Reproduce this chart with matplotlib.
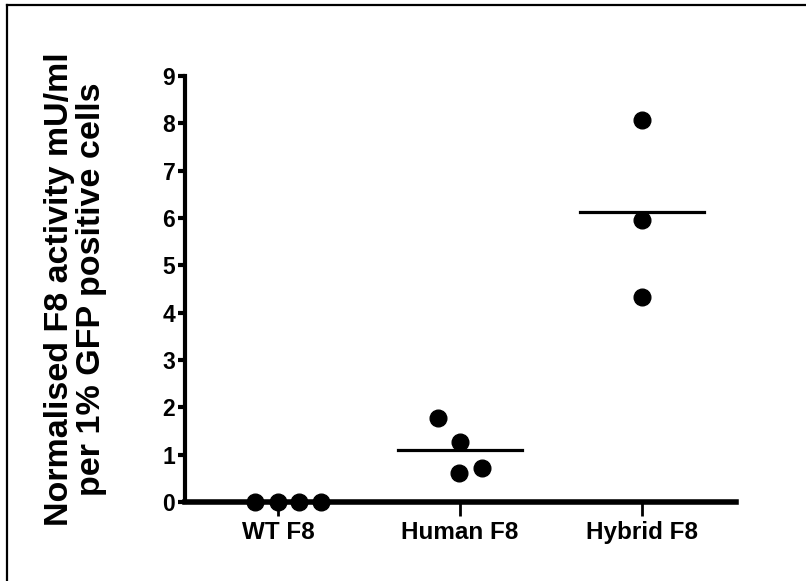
import matplotlib.pyplot as plt
import numpy as np

plt.rcParams['font.family'] = ['Liberation Sans', 'DejaVu Sans']
plt.rcParams['font.weight'] = 'bold'

# group names and measured activities
groups = ['WT F8', 'Human F8', 'Hybrid F8']
wt_f8 = [0.0, 0.0, 0.0, 0.0]
human_f8 = [1.78, 1.27, 0.61, 0.72]
hybrid_f8 = [8.08, 5.95, 4.33]
y_ticks = [0, 1, 2, 3, 4, 5, 6, 7, 8, 9]

# horizontal spread of points within each group (scatter layout)
spread = [[-0.126, 0.0, 0.115, 0.236],
          [-0.12, 0.0, -0.005, 0.12],
          [0.0, 0.0, 0.0]]

values = [wt_f8, human_f8, hybrid_f8]

fig = plt.figure(figsize=(8.06, 5.81), dpi=100)
ax = fig.add_axes([0.2295, 0.136, 0.684, 0.733])

for i, (vals, dx) in enumerate(zip(values, spread)):
    xs = i + np.array(dx)
    ax.plot(xs, vals, 'o', color='black', markersize=12, clip_on=False, zorder=3)
    # group mean
    if i > 0:
        m = np.mean(vals)
        ax.plot([i - 0.34, i + 0.34], [m, m], color='black', linewidth=2.3, zorder=2)

ax.set_xlim(-0.511, 2.516)
ax.set_ylim(0, 9)
ax.set_xticks(range(len(groups)))
ax.set_xticklabels(groups, fontsize=17.5, fontweight='bold')
ax.set_yticks(y_ticks)
ax.set_yticklabels([str(t) for t in y_ticks], fontsize=16.5, fontweight='bold')

for side in ('top', 'right'):
    ax.spines[side].set_visible(False)
ax.spines['left'].set_linewidth(3)
ax.spines['bottom'].set_linewidth(4)
ax.tick_params(axis='y', length=5, width=3, pad=2)
ax.tick_params(axis='x', length=10, width=2, pad=4)

fig.text(0.094, 0.503, 'Normalised F8 activity mU/ml\nper 1% GFP positive cells',
         rotation=90, ha='center', va='center', multialignment='center',
         fontsize=24.5, fontweight='bold', linespacing=1.05)

# outer frame along top and left edge
fig.add_artist(plt.Line2D([0.009, 0.009], [0, 0.992], color='black', linewidth=1.6,
                          transform=fig.transFigure))
fig.add_artist(plt.Line2D([0.009, 1.0], [0.992, 0.992], color='black', linewidth=1.6,
                          transform=fig.transFigure))

fig.savefig('out.png', dpi=100)
